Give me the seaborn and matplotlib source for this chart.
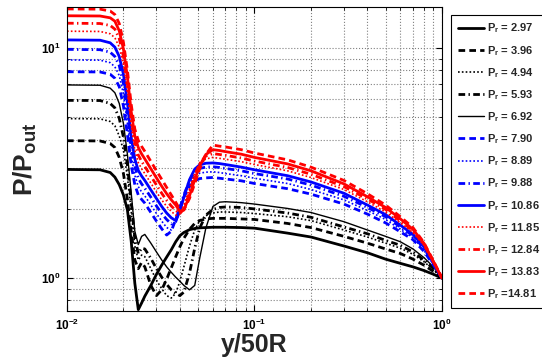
import numpy as np
import pandas as pd
import matplotlib
matplotlib.use("Agg")
import matplotlib.pyplot as plt
import seaborn as sns
from matplotlib.ticker import LogLocator, NullFormatter

# x positions (y/50R), shared by all curves
x_pos = [0.010, 0.015, 0.017, 0.018, 0.019, 0.020, 0.021, 0.022, 0.023, 0.024,
         0.025, 0.026, 0.028, 0.030, 0.032, 0.034, 0.036, 0.038, 0.040, 0.042,
         0.045, 0.048, 0.051, 0.055, 0.060, 0.065, 0.070, 0.085, 0.10, 0.15,
         0.20, 0.30, 0.40, 0.50, 0.60, 0.70, 0.80, 0.90, 1.0]

# P/Pout for each pressure ratio
pr_2_97 = [2.97, 2.96, 2.88, 2.75, 2.55, 2.30, 1.98, 1.45, 0.95, 0.73,
           0.78, 0.835, 0.93, 1.04, 1.14, 1.235, 1.33, 1.44, 1.53, 1.58,
           1.625, 1.645, 1.655, 1.66, 1.665, 1.665, 1.665, 1.66, 1.65, 1.57,
           1.51, 1.38, 1.29, 1.21, 1.16, 1.12, 1.08, 1.04, 1.0]
pr_3_96 = [3.96, 3.95, 3.85, 3.70, 3.35, 2.85, 2.2, 1.6, 1.2, 1.1,
           1.17, 1.12, 0.93, 0.84, 0.89, 0.99, 1.11, 1.24, 1.37, 1.49,
           1.63, 1.73, 1.78, 1.81, 1.82, 1.82, 1.82, 1.81, 1.80, 1.73,
           1.66, 1.52, 1.42, 1.34, 1.28, 1.21, 1.14, 1.07, 1.0]
pr_4_94 = [4.94, 4.93, 4.80, 4.60, 4.15, 3.6, 2.75, 1.95, 1.38, 1.2,
           1.26, 1.24, 1.10, 0.98, 0.90, 0.84, 0.82, 0.86, 0.97, 1.12,
           1.38, 1.62, 1.78, 1.87, 1.92, 1.94, 1.94, 1.93, 1.91, 1.85,
           1.78, 1.62, 1.51, 1.42, 1.35, 1.27, 1.18, 1.09, 1.0]
pr_5_93 = [5.93, 5.92, 5.75, 5.50, 4.95, 4.1, 3.1, 2.15, 1.5, 1.28,
           1.35, 1.34, 1.22, 1.10, 1.01, 0.94, 0.89, 0.86, 0.84, 0.87,
           1.05, 1.35, 1.65, 1.88, 1.99, 2.03, 2.04, 2.03, 2.00, 1.92,
           1.84, 1.67, 1.56, 1.46, 1.39, 1.30, 1.20, 1.10, 1.0]
pr_6_92 = [6.92, 6.90, 6.70, 6.40, 5.75, 4.7, 3.45, 2.35, 1.6, 1.4,
           1.52, 1.55, 1.42, 1.30, 1.20, 1.12, 1.06, 1.01, 0.97, 0.93,
           0.89, 0.93, 1.22, 1.65, 2.05, 2.14, 2.15, 2.13, 2.10, 2.01,
           1.93, 1.76, 1.62, 1.52, 1.44, 1.34, 1.23, 1.12, 1.0]
pr_7_90 = [7.90, 7.88, 7.70, 7.40, 6.8, 5.6, 4.2, 3.1, 2.55, 2.30,
           2.20, 2.12, 1.93, 1.77, 1.64, 1.54, 1.60, 1.80, 2.03, 2.25,
           2.50, 2.65, 2.71, 2.73, 2.74, 2.72, 2.70, 2.65, 2.58, 2.45,
           2.32, 2.10, 1.90, 1.74, 1.59, 1.47, 1.31, 1.14, 1.0]
pr_8_89 = [8.89, 8.87, 8.65, 8.30, 7.6, 6.3, 4.7, 3.4, 2.8, 2.50,
           2.37, 2.28, 2.08, 1.91, 1.77, 1.66, 1.62, 1.78, 2.05, 2.30,
           2.58, 2.78, 2.86, 2.89, 2.90, 2.88, 2.85, 2.79, 2.72, 2.58,
           2.43, 2.19, 1.97, 1.80, 1.63, 1.50, 1.33, 1.15, 1.0]
pr_9_88 = [9.88, 9.85, 9.60, 9.20, 8.4, 7.0, 5.2, 3.75, 3.05, 2.72,
           2.57, 2.46, 2.25, 2.06, 1.91, 1.80, 1.72, 1.76, 2.00, 2.30,
           2.65, 2.90, 3.00, 3.04, 3.05, 3.03, 3.00, 2.93, 2.85, 2.70,
           2.54, 2.27, 2.03, 1.85, 1.67, 1.53, 1.35, 1.16, 1.0]
pr_10_86 = [10.86, 10.83, 10.55, 10.10, 9.2, 7.7, 5.8, 4.1, 3.3, 2.94,
            2.78, 2.66, 2.42, 2.22, 2.05, 1.92, 1.83, 1.78, 1.95, 2.25,
            2.68, 2.98, 3.11, 3.16, 3.17, 3.15, 3.12, 3.04, 2.96, 2.79,
            2.62, 2.34, 2.08, 1.89, 1.70, 1.55, 1.37, 1.16, 1.0]
pr_11_85 = [11.85, 11.82, 11.55, 11.10, 10.1, 8.5, 6.4, 4.6, 3.6, 3.18,
            2.99, 2.85, 2.59, 2.37, 2.19, 2.05, 1.95, 1.88, 1.90, 2.08,
            2.45, 2.85, 3.15, 3.30, 3.35, 3.32, 3.29, 3.21, 3.12, 2.93,
            2.74, 2.43, 2.15, 1.94, 1.74, 1.58, 1.39, 1.17, 1.0]
pr_12_84 = [12.84, 12.80, 12.55, 12.10, 11.0, 9.2, 7.0, 5.0, 3.9, 3.43,
            3.22, 3.06, 2.78, 2.54, 2.34, 2.18, 2.06, 1.97, 1.91, 2.00,
            2.35, 2.78, 3.15, 3.40, 3.48, 3.45, 3.42, 3.33, 3.23, 3.03,
            2.83, 2.50, 2.21, 1.99, 1.77, 1.61, 1.40, 1.18, 1.0]
pr_13_83 = [13.83, 13.80, 13.55, 13.10, 11.9, 9.9, 7.5, 5.3, 4.15, 3.70,
            3.47, 3.30, 2.99, 2.73, 2.51, 2.33, 2.19, 2.08, 1.95, 1.98,
            2.28, 2.68, 3.08, 3.45, 3.62, 3.59, 3.55, 3.46, 3.35, 3.14,
            2.93, 2.57, 2.26, 2.03, 1.81, 1.63, 1.42, 1.18, 1.0]
pr_14_81 = [14.81, 14.78, 14.50, 14.00, 12.8, 10.6, 8.0, 5.7, 4.45, 3.97,
            3.74, 3.56, 3.22, 2.93, 2.69, 2.48, 2.30, 2.14, 1.99, 1.98,
            2.22, 2.58, 2.98, 3.45, 3.79, 3.75, 3.72, 3.62, 3.50, 3.27,
            3.04, 2.66, 2.33, 2.08, 1.85, 1.66, 1.43, 1.19, 1.0]

legend_labels = ["P$_\\mathrm{r}$ = 2.97", "P$_\\mathrm{r}$ = 3.96", "P$_\\mathrm{r}$ = 4.94",
                 "P$_\\mathrm{r}$ = 5.93", "P$_\\mathrm{r}$ = 6.92", "P$_\\mathrm{r}$ = 7.90",
                 "P$_\\mathrm{r}$ = 8.89", "P$_\\mathrm{r}$ = 9.88", "P$_\\mathrm{r}$ = 10.86",
                 "P$_\\mathrm{r}$ = 11.85", "P$_\\mathrm{r}$ = 12.84", "P$_\\mathrm{r}$ = 13.83",
                 "P$_\\mathrm{r}$ =14.81"]

curves = [pr_2_97, pr_3_96, pr_4_94, pr_5_93, pr_6_92, pr_7_90, pr_8_89,
          pr_9_88, pr_10_86, pr_11_85, pr_12_84, pr_13_83, pr_14_81]

# line looks (colour, dash pattern, width)
dash = (0, (2.4, 1.5))
dot = (0, (1.0, 1.3))
dashdot = (0, (2.4, 1.2, 0.5, 1.2))
styles = [("black", "-", 2.0), ("black", dash, 2.0), ("black", dot, 1.2),
          ("black", dashdot, 2.0), ("black", "-", 1.0),
          ("blue", dash, 2.0), ("blue", dot, 1.2), ("blue", dashdot, 2.0), ("blue", "-", 2.0),
          ("red", dot, 1.2), ("red", dashdot, 2.0), ("red", "-", 2.0), ("red", dash, 2.0)]

sns.set_style("ticks")
plt.rcParams["font.family"] = ["Liberation Sans", "DejaVu Sans"]
plt.rcParams["font.weight"] = "bold"
plt.rcParams["axes.labelweight"] = "bold"
plt.rcParams["mathtext.fontset"] = "custom"
plt.rcParams["mathtext.rm"] = "Liberation Sans:bold"
plt.rcParams["mathtext.bf"] = "Liberation Sans:bold"
plt.rcParams["mathtext.it"] = "Liberation Sans:bold:italic"
plt.rcParams["mathtext.default"] = "rm"

fig = plt.figure(figsize=(5.42, 3.6), dpi=100)
ax = fig.add_axes([67 / 542, 49 / 360, 375 / 542, 304 / 360])
ax.set_xscale("log")
ax.set_yscale("log")

handles = []
for vals, lab, (col, ls, lw) in zip(curves, legend_labels, styles):
    sns.lineplot(x=x_pos, y=vals, ax=ax, color=col, linestyle=ls, linewidth=lw)
    handles.append(ax.lines[-1])

ax.set_xlim(0.01, 1.0)
ax.set_ylim(0.72, 15.1)

ax.set_xticks([0.01, 0.1, 1.0], ["$10^{-2}$", "$10^{-1}$", "$10^{0}$"])
ax.set_yticks([1.0, 10.0], ["$10^{0}$", "$10^{1}$"])
ax.xaxis.set_minor_locator(LogLocator(base=10, subs=np.arange(2, 10)))
ax.yaxis.set_minor_locator(LogLocator(base=10, subs=np.arange(2, 10)))
ax.xaxis.set_minor_formatter(NullFormatter())
ax.yaxis.set_minor_formatter(NullFormatter())
ax.tick_params(which="both", direction="in", top=True, right=True, colors="black")
ax.tick_params(which="major", length=4, labelsize=8.5, pad=5)
ax.tick_params(which="minor", length=2)
ax.grid(True, which="both", linestyle=":", color="#808080", linewidth=0.8)
ax.set_axisbelow(True)
for sp in ax.spines.values():
    sp.set_color("black")
    sp.set_linewidth(0.8)

ax.set_xlabel("y/50R", fontsize=18, labelpad=0)
ax.set_ylabel("P/P$_\\mathrm{out}$", fontsize=19, labelpad=1)

leg = ax.legend(handles, legend_labels, loc="upper left",
                bbox_to_anchor=(451 / 542, 345 / 360), bbox_transform=fig.transFigure,
                frameon=True, fancybox=False, edgecolor="black", framealpha=1,
                fontsize=8, handlelength=2.4, handletextpad=0.25,
                labelspacing=0.75, borderpad=0.6, borderaxespad=0)
leg.get_frame().set_linewidth(0.8)

fig.savefig("out.png", dpi=100)
